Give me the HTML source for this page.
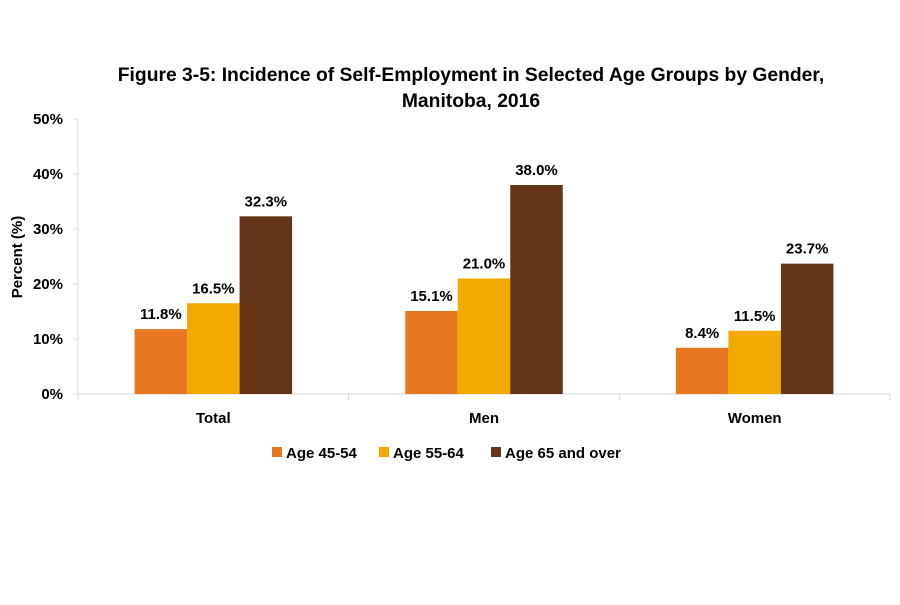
<!DOCTYPE html>
<html><head><meta charset="utf-8"><style>
body{margin:0;background:#fff;width:900px;height:600px;overflow:hidden}
text{font-family:"Liberation Sans",Arial,sans-serif;font-weight:bold;fill:#000}
</style></head><body>
<svg width="900" height="600">
<text x="471" y="81" text-anchor="middle" font-size="19.3">Figure 3-5: Incidence of Self-Employment in Selected Age Groups by Gender,</text>
<text x="471" y="107" text-anchor="middle" font-size="19.3">Manitoba, 2016</text>
<text transform="translate(22,257) rotate(-90)" text-anchor="middle" font-size="15">Percent (%)</text>
<g id="axes"></g>
<g id="bars"></g>
<g id="legend"></g>
</svg>
<script>
const categories=["Total","Men","Women"];
const seriesNames=["Age 45-54","Age 55-64","Age 65 and over"];
const s1=[11.8,15.1,8.4];
const s2=[16.5,21.0,11.5];
const s3=[32.3,38.0,23.7];
const yTicks=[0,10,20,30,40,50];
const colors=["#E87722","#F2A900","#643517"];
const NS="http://www.w3.org/2000/svg";
const x0=78,x1=890,y0=394,yTop=119;
const y=v=>y0-(v/50)*(y0-yTop);
const cw=(x1-x0)/categories.length;
const bw=52.5;
function mk(tag,attrs,parent,txt){const e=document.createElementNS(NS,tag);for(const k in attrs)e.setAttribute(k,attrs[k]);if(txt!==undefined)e.textContent=txt;parent.appendChild(e);return e;}
const ax=document.getElementById('axes'),bg=document.getElementById('bars'),lg=document.getElementById('legend');
let e=mk('line',{x1:x0,y1:yTop,x2:x0,y2:y0,stroke:'#d9d9d9','stroke-width':1},ax);


e=mk('line',{x1:x0-5,y1:y0,x2:x1,y2:y0,stroke:'#d9d9d9','stroke-width':1},ax);


yTicks.forEach(t=>{
 const l=mk('text',{x:x0-15,y:y(t)+5,'text-anchor':'end','font-size':15},ax,t+'%');
 
 
 mk('line',{x1:x0-5,y1:y(t),x2:x0,y2:y(t),stroke:'#d9d9d9'},ax);
});
for(let i=0;i<=categories.length;i++){mk('line',{x1:x0+i*cw,y1:y0,x2:x0+i*cw,y2:y0+6,stroke:'#d9d9d9'},ax);}
const series=[s1,s2,s3];
categories.forEach((c,i)=>{
 const cx=x0+cw*(i+0.5);
 const l=mk('text',{x:cx,y:y0+29,'text-anchor':'middle','font-size':15},ax,c);
 
 
 series.forEach((s,j)=>{
  const bx=cx-1.5*bw+j*bw;
  const r=mk('rect',{x:bx,y:y(s[i]),width:bw,height:y0-y(s[i]),fill:colors[j]},bg);
  
  
  const t=mk('text',{x:bx+bw/2,y:y(s[i])-10,'text-anchor':'middle','font-size':15},bg,s[i].toFixed(1)+'%');
  
  
 });
});
const lx=[272,379,491];
seriesNames.forEach((n,j)=>{
 const g=mk('g',{},lg);
 
 
 mk('rect',{x:lx[j],y:447,width:10,height:10,fill:colors[j]},g);
 mk('text',{x:lx[j]+14,y:458,'font-size':15},g,n);
});
</script>
</body></html>
